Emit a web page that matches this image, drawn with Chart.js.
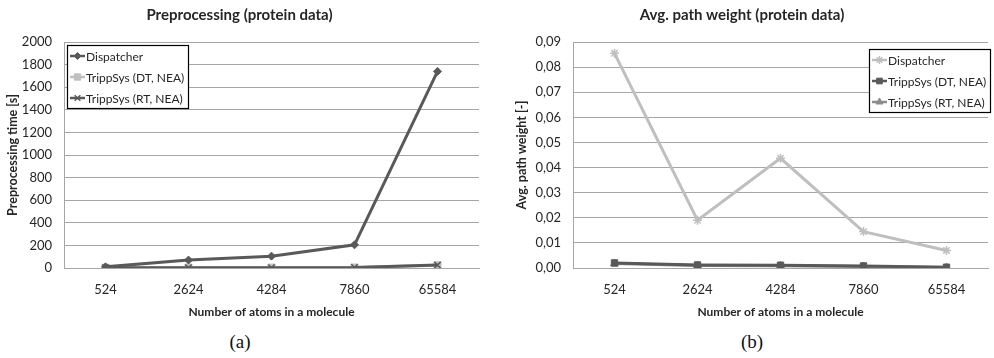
<!DOCTYPE html>
<html>
<head>
<meta charset="utf-8">
<script src="https://cdn.jsdelivr.net/npm/chart.js@4/dist/chart.umd.min.js"></script>
<style>
	body { margin: 0; background: #fff; width: 994px; height: 358px; position: relative; overflow: hidden; }
	.box { position: absolute; top: 0; height: 330px; }
	.cap { position: absolute; top: 331px; font: 19px 'Liberation Serif', serif; color: #111; transform: translateX(-50%); }
</style>
</head>
<body>
<div class="box" style="left:0;width:494px"><canvas id="chartA" width="494" height="330"></canvas></div>
<div class="box" style="left:494px;width:500px"><canvas id="chartB" width="500" height="330"></canvas></div>
<div class="cap" style="left:240px">(a)</div>
<div class="cap" style="left:752px">(b)</div>
<script>
// Shared categories
const atomCounts = ['524', '2624', '4284', '7860', '65584'];

// (a) Preprocessing time [s]
const prepDispatcher = [10, 70, 105, 205, 1740];
const prepDT = [2, 3, 3, 4, 24];
const prepRT = [2, 3, 3, 5, 26];

// (b) Avg. path weight [-]
const weightDispatcher = [0.0855, 0.019, 0.0437, 0.0145, 0.007];
const weightDT = [0.002, 0.0012, 0.0011, 0.0008, 0.0003];
const weightRT = [0.0018, 0.001, 0.0009, 0.0006, 0.0002];

const dark = '#595959';
const light = '#bfbfbf';
const mid = '#8c8c8c';
const gridColor = '#a6a6a6';
const textColor = '#262626';
const fontFamily = 'Lato, "Open Sans", sans-serif';

// Boxed legend drawn inside the plot area, like the spreadsheet one
const boxLegend = {
	id: 'boxLegend',
	afterDraw(chart, args, opts) {
		const {ctx, chartArea} = chart;
		const sets = chart.data.datasets;
		ctx.save();
		ctx.font = `12px ${fontFamily}`;
		const textW = Math.max(...sets.map((d) => ctx.measureText(d.label).width));
		const rowH = 21;
		const w = Math.round(20 + textW + 3);
		const h = sets.length * rowH;
		const x = opts.side === 'right' ? chartArea.right - w - opts.dx : chartArea.left + opts.dx;
		const y = chartArea.top + opts.dy;
		ctx.fillStyle = '#fff';
		ctx.fillRect(x, y, w, h);
		ctx.strokeStyle = '#000';
		ctx.lineWidth = 1.2;
		ctx.strokeRect(x + 0.5, y + 0.5, w, h);
		sets.forEach((d, i) => {
			const cy = y + 11 + i * rowH;
			ctx.strokeStyle = d.borderColor;
			ctx.lineWidth = 2.5;
			ctx.beginPath();
			ctx.moveTo(x + 3, cy);
			ctx.lineTo(x + 18, cy);
			ctx.stroke();
			ctx.fillStyle = d.pointBackgroundColor;
			ctx.strokeStyle = d.pointBorderColor;
			ctx.lineWidth = d.pointBorderWidth;
			Chart.helpers.drawPoint(ctx, {pointStyle: d.pointStyle, radius: d.pointRadius - 0.5, rotation: 0, borderWidth: d.pointBorderWidth}, x + 10.5, cy);
			ctx.fillStyle = textColor;
			ctx.textBaseline = 'middle';
			ctx.fillText(d.label, x + 19, cy + 1);
		});
		ctx.restore();
	},
};

const makeSet = (label, data, color, style, radius, order) => ({
	label: label,
	data: data,
	borderColor: color,
	backgroundColor: color,
	pointBackgroundColor: color,
	pointBorderColor: color,
	pointBorderWidth: style === 'crossRot' || style === 'star' ? 1.5 : 1,
	pointStyle: style,
	pointRadius: radius,
	borderWidth: 3,
	tension: 0,
	fill: false,
	order: order,
});

const makeOptions = (title, yTitle, yMax, yStep, yFmt, yWidth, yTitlePad, legendOpts, padRight) => ({
	responsive: false,
	animation: false,
	layout: {padding: {left: 0, right: padRight, top: 0, bottom: 0}},
	plugins: {
		legend: {display: false},
		tooltip: {enabled: false},
		title: {
			display: true,
			text: title,
			color: textColor,
			font: {family: fontFamily, size: 15, weight: 'bold'},
			padding: {top: 6, bottom: 18},
		},
		boxLegend: legendOpts,
	},
	scales: {
		x: {
			offset: true,
			afterFit: (scale) => {
				scale.height = 62;
			},
			grid: {display: false, drawTicks: false},
			border: {color: gridColor, width: 1},
			ticks: {color: textColor, font: {family: fontFamily, size: 13}, padding: 14},
			title: {
				display: true,
				text: 'Number of atoms in a molecule',
				color: textColor,
				font: {family: fontFamily, size: 12, weight: 'bold'},
				padding: {top: 4, bottom: 11},
			},
		},
		y: {
			min: 0,
			max: yMax,
			afterFit: (scale) => {
				scale.width = yWidth;
			},
			grid: {color: gridColor, drawTicks: false, lineWidth: 1},
			border: {color: gridColor, width: 1},
			ticks: {
				stepSize: yStep,
				color: textColor,
				font: {family: fontFamily, size: 13},
				padding: 12,
				callback: yFmt,
			},
			title: {
				display: true,
				text: yTitle,
				color: textColor,
				font: {family: fontFamily, size: 12.5, weight: 'bold'},
				padding: {top: yTitlePad, bottom: 0},
			},
		},
	},
});

new Chart(document.getElementById('chartA'), {
	type: 'line',
	data: {
		labels: atomCounts,
		datasets: [
			makeSet('Dispatcher', prepDispatcher, dark, 'rectRot', 4, 0),
			makeSet('TrippSys (DT, NEA)', prepDT, light, 'rect', 5, 2),
			makeSet('TrippSys (RT, NEA)', prepRT, dark, 'crossRot', 4.5, 1),
		],
	},
	options: makeOptions(
		'Preprocessing (protein data)',
		'Preprocessing time [s]',
		2000,
		200,
		(v) => v,
		64,
		5,
		{side: 'left', dx: 3, dy: 3},
		15,
	),
	plugins: [boxLegend],
});

new Chart(document.getElementById('chartB'), {
	type: 'line',
	data: {
		labels: atomCounts,
		datasets: [
			makeSet('Dispatcher', weightDispatcher, light, 'star', 4.5, 0),
			makeSet('TrippSys (DT, NEA)', weightDT, dark, 'rect', 4.5, 1),
			makeSet('TrippSys (RT, NEA)', weightRT, mid, 'triangle', 4.5, 2),
		],
	},
	options: makeOptions(
		'Avg. path weight (protein data)',
		'Avg. path weight [-]',
		0.09,
		0.01,
		(v) => v.toFixed(2).replace('.', ','),
		79,
		20,
		{side: 'right', dx: -2, dy: 7},
		4,
	),
	plugins: [boxLegend],
});
</script>
</body>
</html>
